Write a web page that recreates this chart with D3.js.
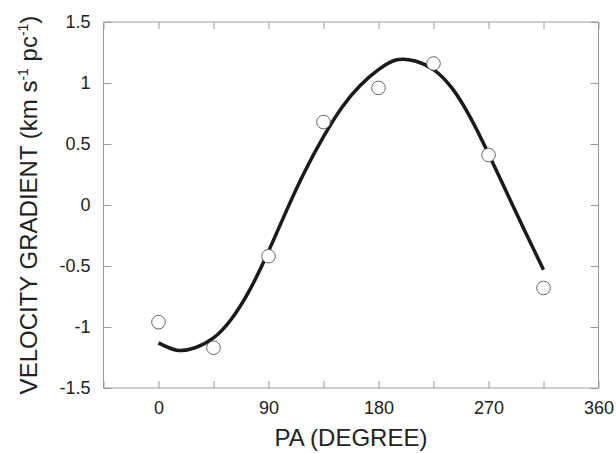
<!DOCTYPE html>
<html lang="en">
<head>
<meta charset="UTF-8">
<title>Velocity gradient vs PA</title>
<script src="https://cdn.jsdelivr.net/npm/d3@7/dist/d3.min.js"></script>
<style>
  body { margin: 0; background: #fff; }
  text { font-family: "Liberation Sans", Arial, sans-serif; fill: #222; }
</style>
</head>
<body>
<svg width="616" height="453" id="mainsvg"></svg>
<script>
// observed points
const paDeg = [0, 45, 90, 135, 180, 225, 270, 315];
const gradObs = [-0.96, -1.17, -0.42, 0.68, 0.96, 1.16, 0.41, -0.68];

// fitted curve
const fitPa = [0, 15, 30, 45, 60, 75, 90, 105, 120, 135, 150, 165, 180, 195, 210, 225, 240, 255, 270, 285, 300, 315];
const fitGrad = [-1.13, -1.19, -1.17, -1.09, -0.93, -0.69, -0.38, -0.04, 0.28, 0.56, 0.80, 0.98, 1.11, 1.19, 1.18, 1.11, 0.96, 0.72, 0.42, 0.10, -0.22, -0.53];

const xTicks = [-45, 0, 45, 90, 135, 180, 225, 270, 315, 360];
const xLabels = [0, 90, 180, 270, 360];
const yTicks = [-1.5, -1, -0.5, 0, 0.5, 1, 1.5];

const svg = d3.select('#mainsvg');
const width = +svg.attr('width');
const height = +svg.attr('height');
const margin = {top: 22, right: 17.5, bottom: 65, left: 103.5};
const innerWidth = width - margin.left - margin.right;
const innerHeight = height - margin.top - margin.bottom;

const g = svg.append('g')
  .attr('transform', `translate(${margin.left},${margin.top})`);

const xScale = d3.scaleLinear().domain([-45, 360]).range([0, innerWidth]);
const yScale = d3.scaleLinear().domain([-1.5, 1.5]).range([innerHeight, 0]);

const fmtX = d => xLabels.includes(d) ? String(d) : '';
const tickCol = '#9a9a9a';

const xAxisB = d3.axisBottom(xScale).tickValues(xTicks).tickFormat(fmtX)
  .tickSizeInner(-7).tickSizeOuter(0).tickPadding(13.5);
const xAxisT = d3.axisTop(xScale).tickValues(xTicks).tickFormat('')
  .tickSizeInner(-7).tickSizeOuter(0);
const yAxisL = d3.axisLeft(yScale).tickValues(yTicks).tickFormat(d => String(d))
  .tickSizeInner(-8).tickSizeOuter(0).tickPadding(13);
const yAxisR = d3.axisRight(yScale).tickValues(yTicks).tickFormat('')
  .tickSizeInner(-8).tickSizeOuter(0);

const axes = [
  g.append('g').attr('transform', `translate(0,${innerHeight})`).call(xAxisB),
  g.append('g').call(xAxisT),
  g.append('g').call(yAxisL),
  g.append('g').attr('transform', `translate(${innerWidth},0)`).call(yAxisR)
];
axes.forEach(a => {
  a.select('.domain').remove();
  a.selectAll('.tick line').attr('stroke', tickCol);
  a.selectAll('.tick text').attr('font-size', 18).attr('fill', '#222')
    .attr('font-family', '"Liberation Sans", Arial, sans-serif');
});

g.append('rect')
  .attr('width', innerWidth).attr('height', innerHeight)
  .attr('fill', 'none').attr('stroke', tickCol).attr('stroke-width', 1);

// fitted curve
const line = d3.line()
  .x((d, i) => xScale(fitPa[i]))
  .y(d => yScale(d))
  .curve(d3.curveNatural);

g.append('path').datum(fitGrad)
  .attr('d', line)
  .attr('fill', 'none')
  .attr('stroke', '#1a1a1a')
  .attr('stroke-width', 3.5);

// observed points
g.selectAll('circle.obs').data(gradObs).join('circle')
  .attr('class', 'obs')
  .attr('cx', (d, i) => xScale(paDeg[i]))
  .attr('cy', d => yScale(d))
  .attr('r', 6.8)
  .attr('fill', '#fff')
  .attr('stroke', '#555')
  .attr('stroke-width', 0.9);

// axis titles
svg.append('text')
  .attr('x', margin.left + innerWidth / 2)
  .attr('y', 446)
  .attr('text-anchor', 'middle')
  .attr('font-size', 24)
  .text('PA (DEGREE)');

const yt = svg.append('text')
  .attr('transform', `translate(37,${margin.top + innerHeight / 2}) rotate(-90)`)
  .attr('text-anchor', 'middle')
  .attr('font-size', 24);
yt.append('tspan').text('VELOCITY GRADIENT (km s');
yt.append('tspan').attr('font-size', 14).attr('dy', -9).text('-1');
yt.append('tspan').attr('dy', 9).text(' pc');
yt.append('tspan').attr('font-size', 14).attr('dy', -9).text('-1');
yt.append('tspan').attr('dy', 9).text(')');
</script>
</body>
</html>
